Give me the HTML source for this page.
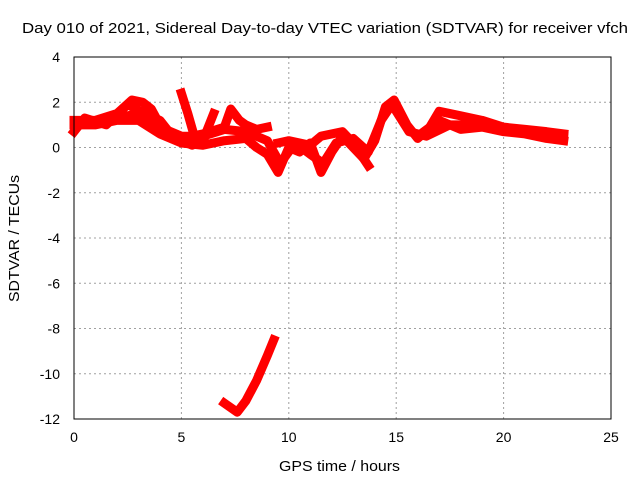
<!DOCTYPE html>
<html><head><meta charset="utf-8"><style>
body{margin:0;background:#fff}
svg text{font-family:"Liberation Sans",sans-serif;font-size:14px;fill:#000}
</style></head><body>
<svg id="chart" width="640" height="480">
<text x="22" y="33" textLength="606" lengthAdjust="spacingAndGlyphs" style="font-size:15px">Day 010 of 2021, Sidereal Day-to-day VTEC variation (SDTVAR) for receiver vfch</text>
<g id="grid"></g>
<g id="ticks"></g>
<g id="series"></g>
<rect x="74" y="57" width="537" height="362" fill="none" stroke="#000" stroke-width="1"/>
<text x="279" y="471" textLength="121" lengthAdjust="spacingAndGlyphs" style="font-size:15px">GPS time / hours</text>
<text transform="translate(19,302) rotate(-90)" textLength="127" lengthAdjust="spacingAndGlyphs" style="font-size:15px">SDTVAR / TECUs</text>
</svg>
<script>
const xTicks=[0,5,10,15,20,25];
const yTicks=[4,2,0,-2,-4,-6,-8,-10,-12];
const trackA=[[0,1.2],[1,1.2],[2,1.5],[2.7,2.1],[3.2,2.0],[3.6,1.7],[4,1.0],[4.6,0.5],[5,0.3],[5.5,0.5],[6,0.6],[7,0.9],[7.3,1.7],[7.7,1.2],[8,1.0],[8.5,0.8],[9,0.9]];
const trackB=[[0,1.0],[1,1.0],[2,1.2],[3,1.2],[4,0.6],[5,0.2],[6,0.1],[7,0.3],[8,0.4],[8.5,0.0],[9,-0.3],[9.5,-1.1],[10,0.0],[10.5,-0.2],[11,0.2],[11.5,-1.1],[12,-0.2],[12.5,0.5],[13,0.0],[13.5,-0.5],[14,0.3],[14.5,1.8],[14.9,2.1],[15.5,1.0],[16,0.4],[16.5,0.8],[17,1.6],[18,1.4],[19,1.2],[20,0.9],[21,0.8],[22,0.7],[22.8,0.6]];
const trackC=[[0,0.7],[0.5,1.3],[1.5,1.0],[2.5,1.9],[3.5,1.4],[4,1.2],[4.5,0.6],[5,0.3],[5.5,0.1],[6,0.3],[6.5,1.5]];
const trackD=[[5.0,2.4],[5.3,1.5],[5.6,0.5],[6,0.3]];
const trackE=[[9.5,0.2],[10,0.3],[11,0.1],[11.5,0.5],[12,0.6],[12.5,0.7],[13,0.2],[13.7,-0.8]];
const trackF=[[16,0.5],[17,1.2],[18,0.8],[19,0.9],[20,0.7],[21,0.6],[22,0.4],[22.8,0.3]];
const trackG=[[7,-11.3],[7.6,-11.7],[8,-11.2],[8.5,-10.3],[9,-9.2],[9.3,-8.5]];
const trackH=[[1,1.1],[2,1.3],[3,1.5],[4,0.9],[5,0.5],[6,0.5],[7,0.8],[8,0.7],[9,0.3],[9.6,-0.7],[10.3,0.2],[11,-0.3],[11.6,-0.7],[12.2,0.2],[13,0.4],[13.7,-0.2],[14.3,1.2],[14.8,1.9],[15.6,0.7],[16.4,0.5],[17.5,1.0],[18.5,1.0],[19.5,0.9],[20.5,0.8],[21.5,0.6],[22.8,0.5]];
const tracks=[trackA,trackB,trackC,trackD,trackE,trackF,trackG,trackH];
const NS='http://www.w3.org/2000/svg';
const sx=h=>74+h*537/25;
const sy=v=>57+(4-v)*362/16;
const grid=document.getElementById('grid'),ticks=document.getElementById('ticks'),ser=document.getElementById('series');
function mk(tag,attrs,parent){const e=document.createElementNS(NS,tag);for(const k in attrs)e.setAttribute(k,attrs[k]);parent.appendChild(e);return e;}
xTicks.forEach(t=>{
 const g=mk('line',{x1:sx(t),x2:sx(t),y1:57,y2:419,stroke:'#a0a0a0','stroke-dasharray':'2,3'},grid);
 
 
 const l=mk('text',{x:sx(t),y:442,'text-anchor':'middle'},ticks);l.textContent=t;
 
 
});
yTicks.forEach(t=>{
 const g=mk('line',{x1:74,x2:611,y1:sy(t),y2:sy(t),stroke:'#a0a0a0','stroke-dasharray':'2,3'},grid);
 
 
 const l=mk('text',{x:60,y:sy(t)+5,'text-anchor':'end'},ticks);l.textContent=t;
 
 
});
tracks.forEach(tr=>{
 const p=mk('polyline',{points:tr.map(d=>sx(d[0])+','+sy(d[1])).join(' '),fill:'none',stroke:'#ff0000','stroke-width':9,'stroke-linejoin':'round','stroke-linecap':'square'},ser);
 
 
});
</script>
</body></html>
